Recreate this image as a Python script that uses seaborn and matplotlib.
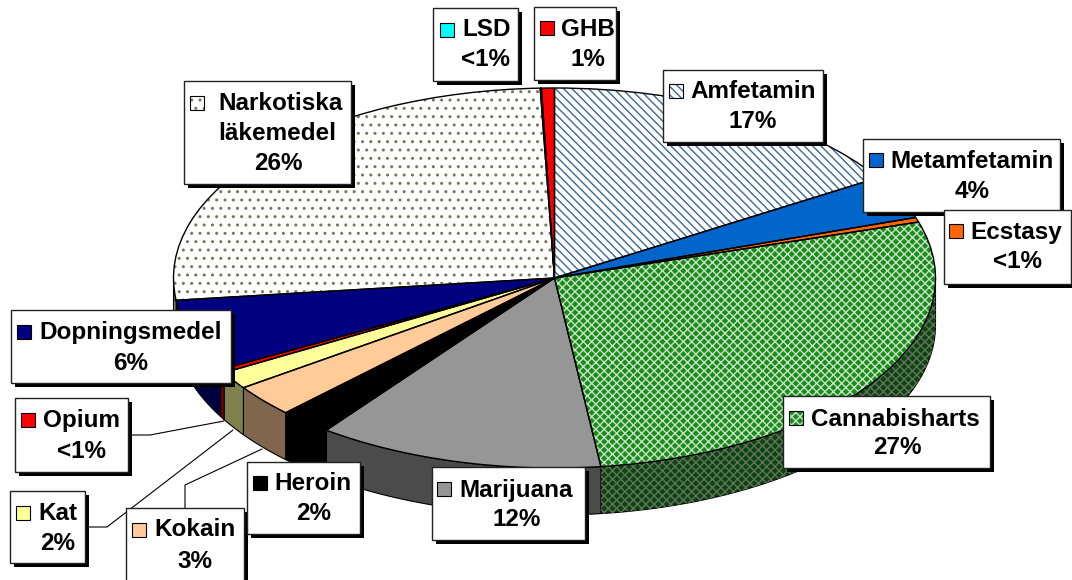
import numpy as np
import matplotlib
matplotlib.use('Agg')
import matplotlib.pyplot as plt
from matplotlib.colors import to_rgb
from matplotlib.patches import Rectangle
import seaborn as sns

# Data, clockwise from twelve o'clock
names = ['Amfetamin', 'Metamfetamin', 'Ecstasy', 'Cannabisharts', 'Marijuana', 'Heroin', 'Kokain',
         'Kat', 'Opium', 'Dopningsmedel', 'Narkotiska\nläkemedel', 'LSD', 'GHB']
shares = [16.2, 3.7, 0.4, 27.9, 12.2, 2.25, 2.75, 1.5, 0.3, 6.15, 26.35, 0.05, 0.55]
pct_labels = ['17%', '4%', '<1%', '27%', '12%', '2%', '3%', '2%', '<1%', '6%', '26%', '<1%', '1%']

# Styles
colors = ['#ffffff', '#0066cc', '#ff6600', '#1c8a1c', '#969696', '#000000', '#ffcc99',
          '#ffff99', '#ff0000', '#000080', '#ffffff', '#00ffff', '#ff0000']
hatches = ['\\\\\\\\', None, None, 'xxxx', None, None, None, None, None, None, '..', None, None]
hatch_colors = ['#3a6795', None, None, '#c4e4c4', None, None, None, None, None, None, '#77775a', None, None]

# Box layout in image pixels: left, top, right, bottom, key x, key y, text x, first line y, pct x, pct y
boxes = [
    (663, 70, 823, 142, 669, 84, 690, 91, 753, 121),
    (863, 139, 1060, 212, 869, 153, 890, 160, 972, 190),
    (944, 210, 1071, 284, 949, 224, 970, 231, 1018, 261),
    (783, 396, 990, 468, 789, 411, 811, 418, 897, 447),
    (432, 467, 585, 540, 437, 482, 459, 489, 517, 519),
    (247, 462, 360, 534, 253, 476, 274, 483, 314, 512),
    (126, 508, 244, 590, 132, 523, 154, 529, 195, 561),
    (10, 491, 85, 563, 16, 506, 38, 513, 58, 543),
    (15, 398, 128, 472, 21, 413, 43, 420, 81, 451),
    (11, 310, 231, 383, 17, 325, 39, 332, 131, 362),
    (184, 81, 351, 184, 190, 96, 218, 102, 278, 163),
    (433, 8, 518, 81, 440, 23, 462, 29, 486, 59),
    (534, 7, 616, 80, 540, 21, 561, 28, 588, 58),
]
leaders = [
    ([128, 150, 224], [435, 435, 421]),
    ([85, 107, 233], [527, 527, 430]),
    ([185, 185, 262], [508, 485, 449]),
]

sns.set_style('white')
plt.rcParams['font.family'] = ['Liberation Sans', 'DejaVu Sans']
plt.rcParams['hatch.linewidth'] = 1.0

W, H = 1072, 580
cx, cy, rx, ry = 554.5, 278, 381, 190
depth = 47 / ry

fig = plt.figure(figsize=(W / 100, H / 100), dpi=100)
ax = fig.add_axes([0, 0, 1, 1])

# top face fill
wedges, _ = ax.pie(shares, startangle=90, counterclock=False, radius=1,
                   colors=colors, wedgeprops={'linewidth': 0})
for w, h, hc in zip(wedges, hatches, hatch_colors):
    w.set_zorder(3)
    if h:
        w.set_hatch(h)
        w.set_edgecolor(hc)
        w.set_linewidth(0)

# outline on top
outline, _ = ax.pie(shares, startangle=90, counterclock=False, radius=1,
                    colors=['none'] * len(shares), wedgeprops={'linewidth': 1.0, 'edgecolor': 'black'})
for w in outline:
    w.set_zorder(4)

# side wall: the part of each wedge on the lower half of the ellipse
for w, c, h, hc in zip(wedges, colors, hatches, hatch_colors):
    lo, hi = max(w.theta1, -180), min(w.theta2, 0)
    if lo >= hi:
        continue
    t = np.radians(np.linspace(lo, hi, 60))
    xs = np.r_[np.cos(t), np.cos(t[::-1])]
    ys = np.r_[np.sin(t), np.sin(t[::-1]) - depth]
    dark = tuple(v * 0.5 for v in to_rgb(c))
    ax.fill(xs, ys, facecolor=dark, edgecolor='black', linewidth=0.8, zorder=1)
    if h and hc:
        hatch_dark = tuple(v * 0.5 for v in to_rgb(hc))
        ax.fill(xs, ys, facecolor='none', edgecolor=hatch_dark, hatch=h, linewidth=0, zorder=2)

ax.set_aspect('auto')
ax.set_xlim(-cx / rx, (W - cx) / rx)
ax.set_ylim((cy - H) / ry, cy / ry)
ax.axis('off')

# Labels live on an overlay in pixel coordinates
lab = fig.add_axes([0, 0, 1, 1])
lab.set_xlim(0, W)
lab.set_ylim(H, 0)
lab.axis('off')

for xs, ys in leaders:
    lab.plot(xs, ys, color='black', linewidth=0.8, zorder=1)

for name, pct, c, h, hc, b in zip(names, pct_labels, colors, hatches, hatch_colors, boxes):
    left, top, right, bottom, kx, ky, tx, ty, px, py = b
    lab.add_patch(Rectangle((left + 4, top + 4), right - left, bottom - top, facecolor='black', edgecolor='none', zorder=2))
    lab.add_patch(Rectangle((left, top), right - left, bottom - top, facecolor='white', edgecolor='#222222', linewidth=1.0, zorder=3))
    lab.add_patch(Rectangle((kx, ky), 14, 14, facecolor=c, edgecolor=hc if h else 'none', hatch=h, linewidth=0, zorder=4))
    lab.add_patch(Rectangle((kx, ky), 14, 14, facecolor='none', edgecolor='black', linewidth=0.8, zorder=5))
    for i, line in enumerate(name.split('\n')):
        lab.text(tx, ty + 1 + i * 30, line, fontsize=17.5, fontweight='bold', ha='left', va='center', color='black', zorder=6)
    lab.text(px, py + 1, pct, fontsize=17.5, fontweight='bold', ha='center', va='center', color='black', zorder=6)

fig.savefig('out.png', dpi=100)
